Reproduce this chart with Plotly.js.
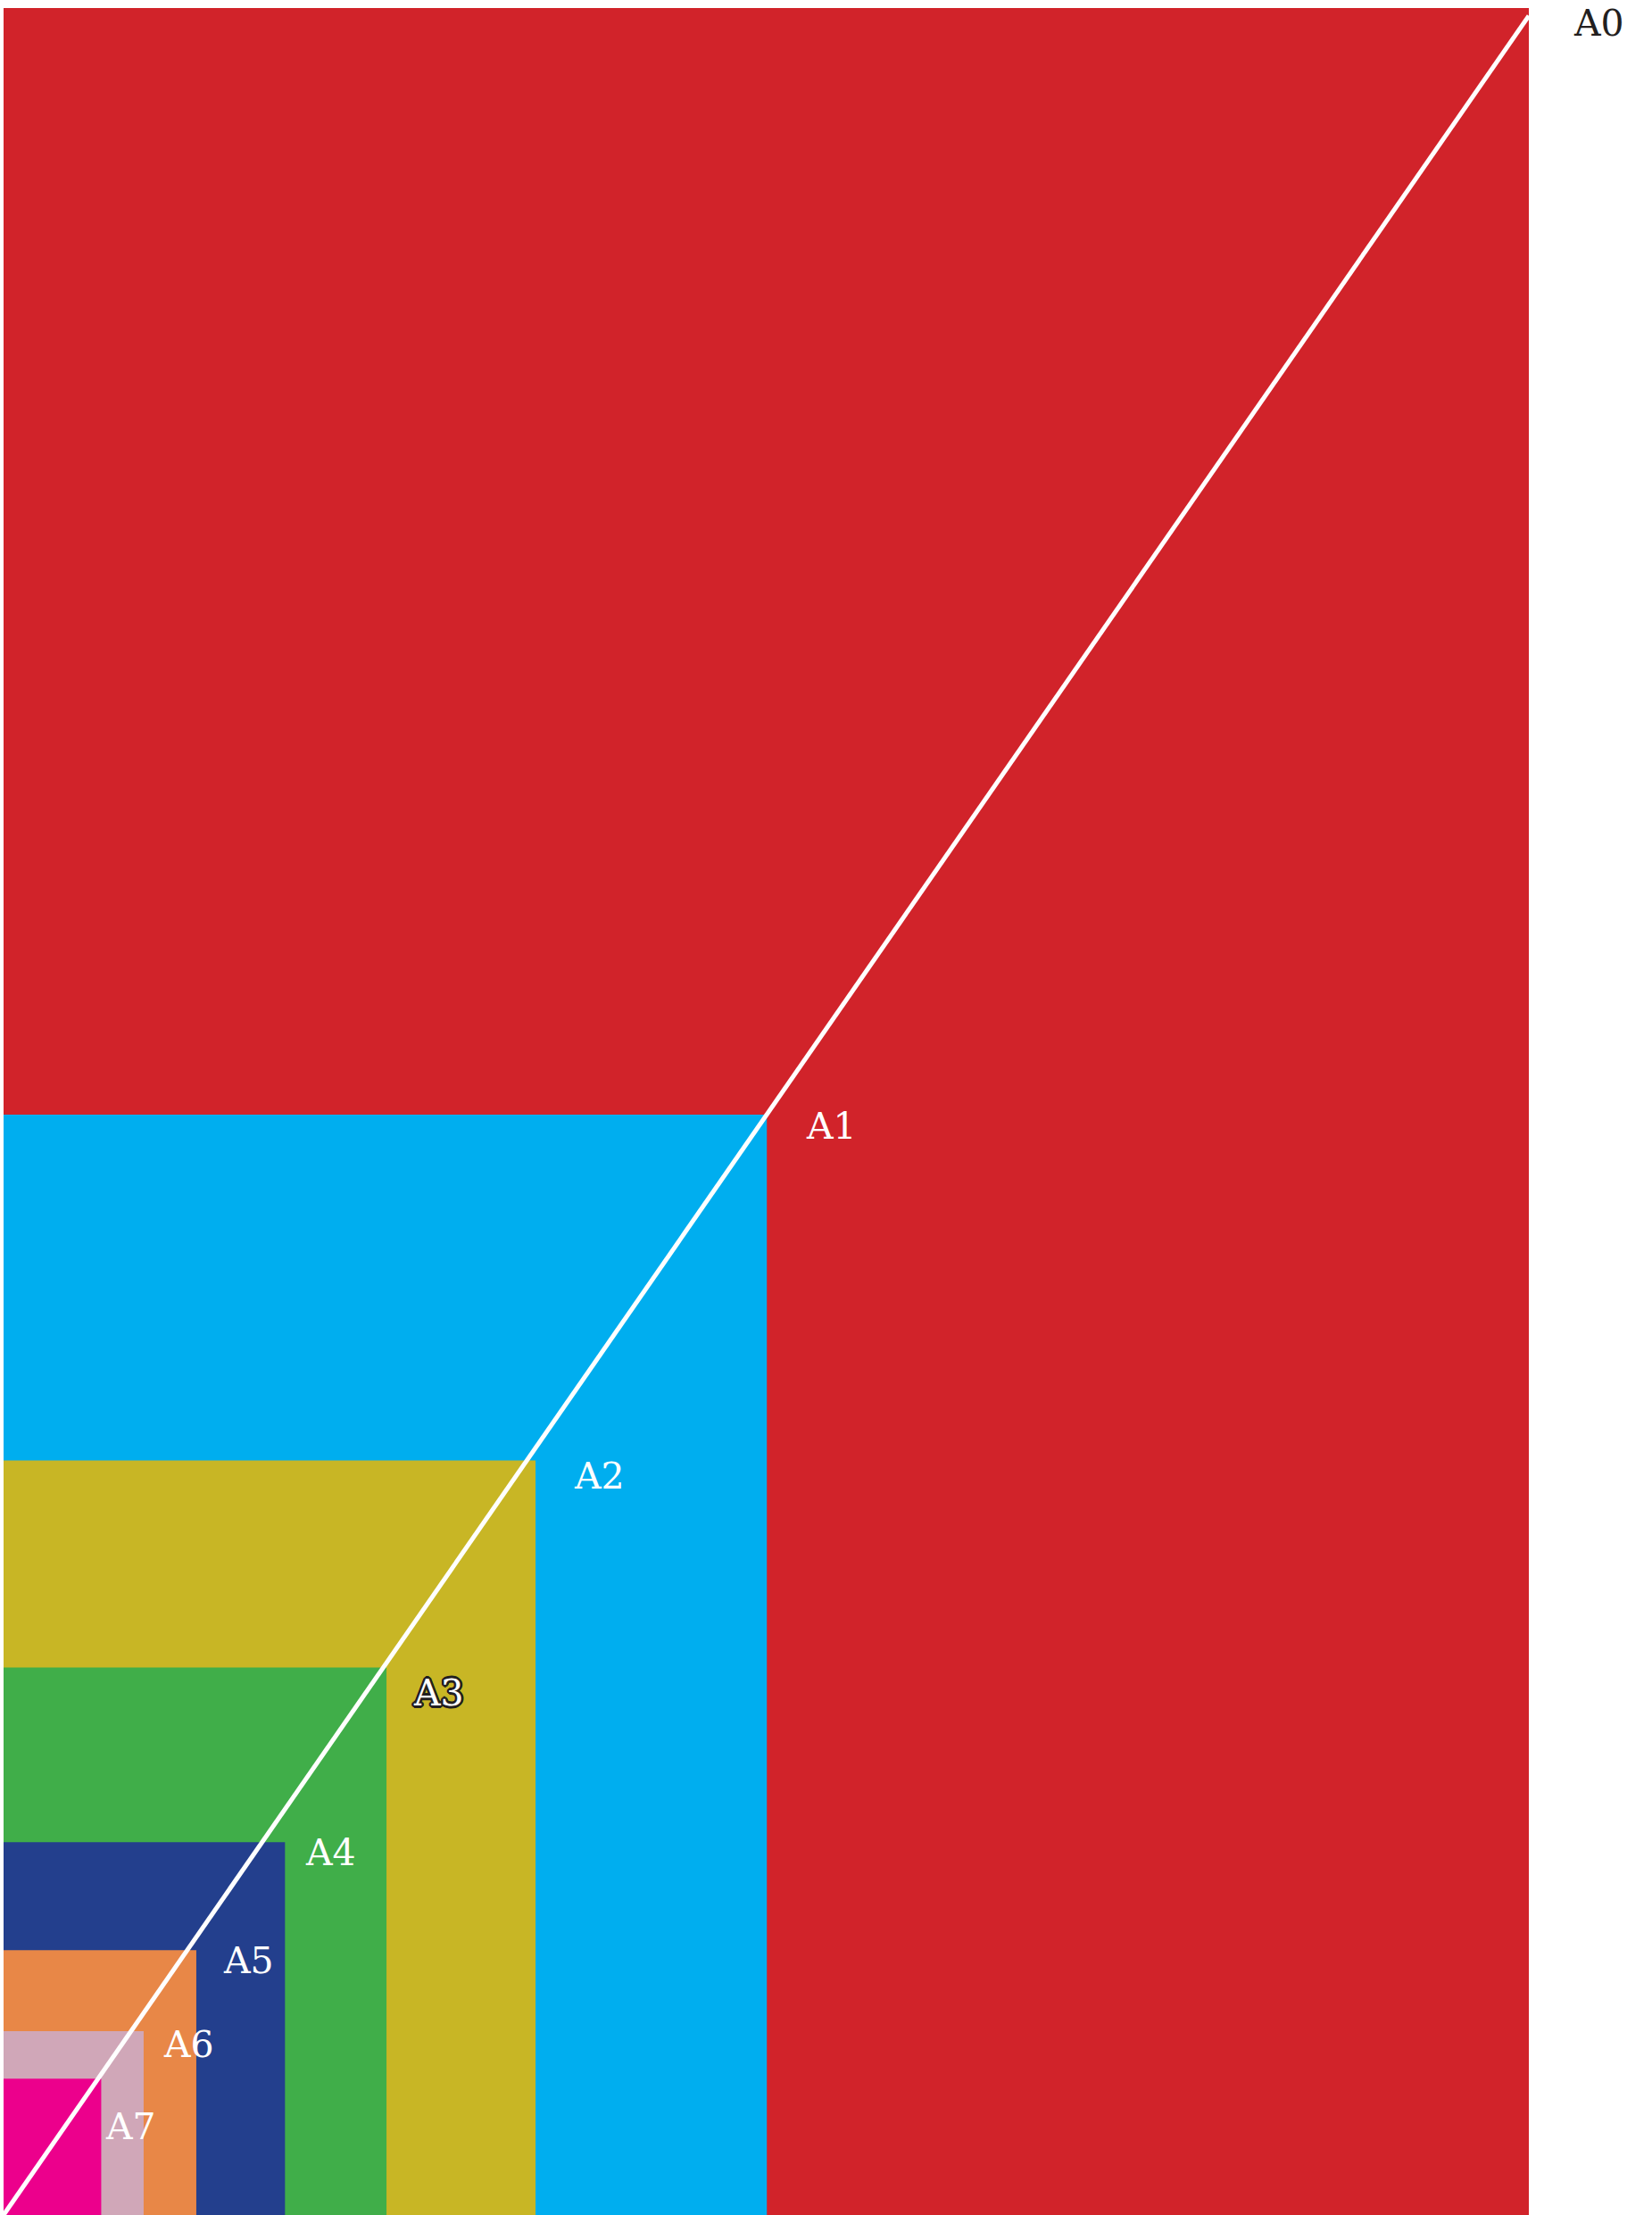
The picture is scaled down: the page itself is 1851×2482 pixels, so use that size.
<!DOCTYPE html>
<html>
<head>
<meta charset="utf-8">
<script src="https://cdn.plot.ly/plotly-3.0.1.min.js"></script>
<style>html,body{margin:0;padding:0;background:#fff;}#chart{width:1851px;height:2482px;}</style>
</head>
<body>
<div id="chart"></div>
<script>
// Paper sizes as drawn (units ~ mm)
const sizes = ["A0", "A1", "A2", "A3", "A4", "A5", "A6", "A7"];
const widths = [1187, 594, 414, 298, 219, 150, 109, 76];
const heights = [1717, 856, 587, 426, 290, 206, 143, 106];
const diagonalX = [0, 1187];
const diagonalY = [0, 1711];

const fills = ["#D1232A", "#00AEEF", "#C8B625", "#40AE49", "#233F8D", "#E88747", "#D0A7B8", "#EC008C"];
const labelColors = ["#231F20", "#FFFFFF", "#FFFFFF", "#FFFFFF", "#FFFFFF", "#FFFFFF", "#FFFFFF", "#FFFFFF"];
const labelShift = [[48, -17], [42, -13], [41, -17], [28, -29], [21, -12], [28, -12], [20, -15], [3, -54]];

const shapes = sizes.map((s, i) => ({
  type: "rect", xref: "x", yref: "y", layer: "below",
  x0: 0, y0: 0, x1: widths[i], y1: heights[i],
  fillcolor: fills[i], line: {width: 0}
}));

const outline = [];
for (let a = 0; a < 360; a += 30) {
  const r = 2.6;
  outline.push((r * Math.cos(a * Math.PI / 180)).toFixed(2) + "px " + (r * Math.sin(a * Math.PI / 180)).toFixed(2) + "px 0 #231F20");
}

const annotations = sizes.map((s, i) => {
  const font = {family: "DejaVu Serif, serif", size: 41, color: labelColors[i]};
  if (s === "A3") font.shadow = outline.join(", ");
  return {
    x: widths[i], y: heights[i], xref: "x", yref: "y",
    text: s, showarrow: false, xanchor: "left", yanchor: "middle",
    xshift: labelShift[i][0], yshift: labelShift[i][1], font: font
  };
});

const traces = [{
  x: diagonalX, y: diagonalY, type: "scatter", mode: "lines",
  line: {color: "#FFFFFF", width: 5}, hoverinfo: "skip", showlegend: false
}];

const layout = {
  width: 1851, height: 2482,
  margin: {l: 4, r: 138, t: 9, b: 0, pad: 0},
  paper_bgcolor: "#FFFFFF", plot_bgcolor: "rgba(0,0,0,0)",
  xaxis: {range: [0, 1187], visible: false, fixedrange: true},
  yaxis: {range: [0, 1717], visible: false, fixedrange: true},
  shapes: shapes, annotations: annotations, showlegend: false
};

Plotly.newPlot("chart", traces, layout, {displayModeBar: false, staticPlot: true});
</script>
</body>
</html>
